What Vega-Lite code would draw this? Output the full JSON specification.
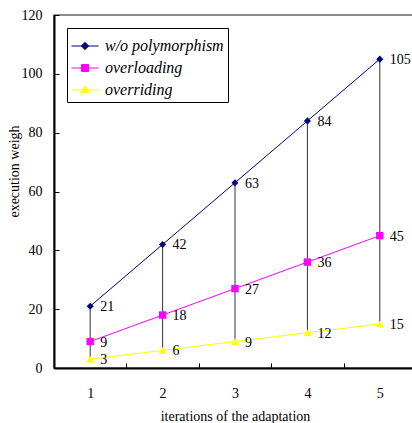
{
  "$schema": "https://vega.github.io/schema/vega-lite/v6.json",
  "width": 362,
  "height": 353,
  "autosize": {"type": "none"},
  "padding": {"left": 54, "top": 15, "right": 0, "bottom": 56},
  "background": "white",
  "config": {
    "font": "Liberation Serif",
    "view": {"stroke": "#666666", "strokeWidth": 1.5},
    "axis": {
      "labelFont": "Liberation Serif",
      "titleFont": "Liberation Serif",
      "labelFontSize": 14,
      "titleFontSize": 14,
      "titleFontWeight": "normal",
      "labelColor": "black",
      "titleColor": "black",
      "domainColor": "black",
      "domainWidth": 2,
      "tickColor": "black",
      "tickWidth": 1,
      "grid": false,
      "tickSize": -5
    },
    "legend": {
      "labelFont": "Liberation Serif",
      "labelFontSize": 16,
      "labelFontStyle": "italic",
      "labelColor": "black"
    }
  },
  "data": {
    "values": [
      {"x": 1, "series": "w/o polymorphism", "v": 21},
      {"x": 2, "series": "w/o polymorphism", "v": 42},
      {"x": 3, "series": "w/o polymorphism", "v": 63},
      {"x": 4, "series": "w/o polymorphism", "v": 84},
      {"x": 5, "series": "w/o polymorphism", "v": 105},
      {"x": 1, "series": "overloading", "v": 9},
      {"x": 2, "series": "overloading", "v": 18},
      {"x": 3, "series": "overloading", "v": 27},
      {"x": 4, "series": "overloading", "v": 36},
      {"x": 5, "series": "overloading", "v": 45},
      {"x": 1, "series": "overriding", "v": 3},
      {"x": 2, "series": "overriding", "v": 6},
      {"x": 3, "series": "overriding", "v": 9},
      {"x": 4, "series": "overriding", "v": 12},
      {"x": 5, "series": "overriding", "v": 15}
    ]
  },
  "encoding": {
    "x": {
      "field": "x",
      "type": "ordinal",
      "title": "iterations of the adaptation",
      "scale": {"type": "band", "paddingInner": 0, "paddingOuter": 0},
      "axis": {"labelAngle": 0, "tickBand": "extent", "labelPadding": 23, "titlePadding": 9, "labelFont": "Liberation Serif", "titleFont": "Liberation Serif"}
    },
    "y": {
      "field": "v",
      "type": "quantitative",
      "title": "execution weigh",
      "scale": {"domain": [0, 120], "nice": false},
      "axis": {"values": [0, 20, 40, 60, 80, 100, 120], "labelPadding": 17, "titlePadding": 0, "titleY": 156, "labelFont": "Liberation Serif", "titleFont": "Liberation Serif"}
    }
  },
  "layer": [
    {
      "mark": {"type": "rule", "color": "#333333", "strokeWidth": 1},
      "encoding": {
        "y": {"aggregate": "min", "field": "v", "type": "quantitative"},
        "y2": {"aggregate": "max", "field": "v"}
      }
    },
    {
      "mark": {"type": "line", "strokeWidth": 1},
      "encoding": {
        "color": {
          "field": "series",
          "type": "nominal",
          "scale": {"range": ["#FF00FF", "#FFFF00", "#000080"]},
          "legend": null
        }
      }
    },
    {
      "transform": [{"filter": "datum.series == 'w/o polymorphism'"}],
      "mark": {"type": "point", "filled": true, "opacity": 1, "size": 50, "shape": "diamond"},
      "encoding": {"color": {"field": "series", "type": "nominal", "legend": null}}
    },
    {
      "transform": [{"filter": "datum.series == 'overloading'"}],
      "mark": {"type": "point", "filled": true, "opacity": 1, "size": 55, "shape": "square"},
      "encoding": {"color": {"field": "series", "type": "nominal", "legend": null}}
    },
    {
      "transform": [{"filter": "datum.series == 'overriding'"}],
      "mark": {"type": "point", "filled": true, "opacity": 1, "size": 64, "shape": "triangle-up"},
      "encoding": {"color": {"field": "series", "type": "nominal", "legend": null}}
    },
    {
      "mark": {"type": "text", "align": "left", "baseline": "middle", "dx": 10, "dy": 1, "fontSize": 14, "font": "Liberation Serif", "color": "black"},
      "encoding": {"text": {"field": "v", "type": "quantitative"}}
    },
    {
      "transform": [{"filter": "datum.x > 10"}],
      "mark": {"type": "point", "opacity": 1, "size": 729, "strokeWidth": 1},
      "encoding": {
        "fill": {
          "field": "series",
          "type": "nominal",
          "scale": {"domain": ["w/o polymorphism", "overloading", "overriding"], "range": ["#000080", "#FF00FF", "#FFFF00"]}
        },
        "stroke": {
          "field": "series",
          "type": "nominal",
          "scale": {"domain": ["w/o polymorphism", "overloading", "overriding"], "range": ["#000080", "#FF00FF", "#FFFF00"]}
        },
        "shape": {
          "field": "series",
          "type": "nominal",
          "scale": {
            "domain": ["w/o polymorphism", "overloading", "overriding"],
            "range": [
              "M-1,0H1M0,-0.27L0.27,0L0,0.27L-0.27,0Z",
              "M-1,0H1M-0.26,-0.26H0.26V0.26H-0.26Z",
              "M-1,0H1M0,-0.32L0.3,0.2L-0.3,0.2Z"
            ]
          },
          "legend": {
            "title": null,
            "orient": "top-left",
            "offset": 13,
            "strokeColor": "black",
            "fillColor": "white",
            "padding": 4,
            "labelFont": "Liberation Serif",
            "labelFontSize": 16,
            "labelFontStyle": "italic",
            "labelColor": "black",
            "symbolSize": 729,
            "symbolStrokeWidth": 1,
            "symbolOpacity": 1,
            "labelOffset": 6,
            "rowPadding": 0
          }
        }
      }
    }
  ]
}
